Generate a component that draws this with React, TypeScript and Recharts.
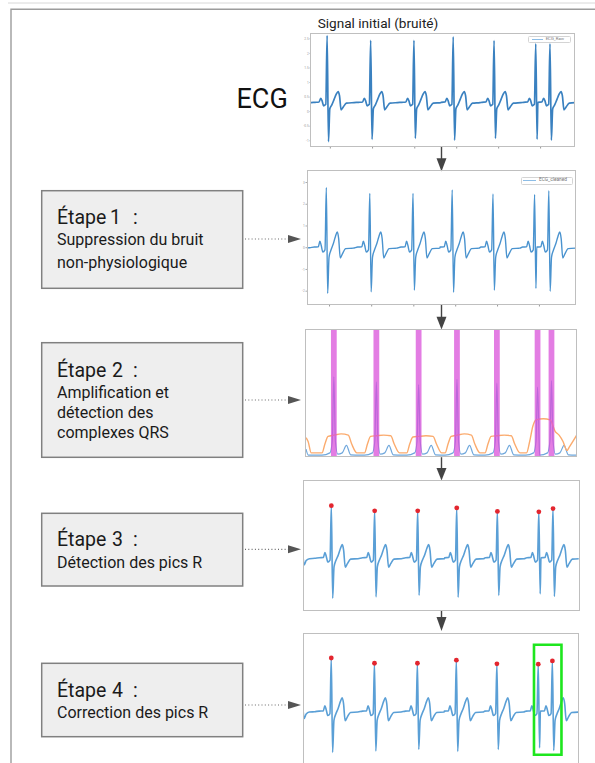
import React from 'react';
import { ComposedChart, Line, Scatter, XAxis, YAxis, ReferenceArea, Legend } from 'recharts';

const FONT = 'Roboto, "Noto Sans", sans-serif';

// R-peak times (samples) and per-beat amplitudes
const BEAT_TIMES = [72, 234, 395, 541, 693, 848, 901];
const CLEAN_R = [2.77, 2.5, 2.5, 2.66, 2.47, 2.45, 2.62];
const CLEAN_S = [-2.1, -2.03, -1.95, -2.05, -1.95, -1.87, -2.0];
const RAW_R = [2.61, 2.45, 2.45, 2.57, 2.44, 2.33, 2.33];
const RAW_S = [-1.03, -0.95, -0.92, -0.98, -0.92, -0.95, -0.98];
const ENERGY_PEAK = [0.63, 0.59, 0.57, 0.61, 0.58, 0.55, 0.6];

// one heartbeat, as offsets (samples) from its R peak
const PRE_OFFSETS = [-45, -30, -24, -19, -13, -5];
const S_OFFSET = 5;
const POST_OFFSETS = [10, 17, 26, 34, 41, 46, 52, 60, 72, 100];
const CLEAN_PRE = [0.03, 0.04, 0.3, 0.1, -0.2, -0.1];
const CLEAN_POST = [-0.45, -0.12, 0.18, 0.52, 0.72, 0.42, -0.47, -0.28, -0.04, -0.02];
const RAW_PRE = [0.32, 0.33, 0.46, 0.38, 0.2, 0.25];
const RAW_POST = [0.1, 0.22, 0.42, 0.6, 0.69, 0.55, 0.06, 0.16, 0.29, 0.31];

// signal before the first full beat
const LEAD_T = [-34, -30, -22, -10, 10];
const CLEAN_LEAD = [0.15, -0.35, -0.12, -0.02, 0.0];
const RAW_LEAD = [0.31, 0.31, 0.3, 0.31, 0.31];

// QRS energy (step 2)
const ENERGY_PRE_OFFSETS = [-45, -15, -6];
const ENERGY_PRE = [0.012, 0.03, 0.12];
const ENERGY_POST_OFFSETS = [6, 15, 32, 48, 64, 100];
const ENERGY_POST = [0.12, 0.02, 0.03, 0.09, 0.015, 0.012];
const ENERGY_LEAD_T = [-34, -25, 10];
const ENERGY_LEAD = [0.06, 0.012, 0.012];

// adaptive threshold (step 2)
const THRESHOLD_T = [-34, -26, -14, 27, 38, 50, 72, 100, 127, 140, 160, 189, 200, 212, 234, 262, 289, 302, 322, 350, 361, 373, 395, 423, 450, 463, 483, 496, 507, 519, 541, 569, 596, 609, 629, 648, 659, 671, 693, 721, 748, 761, 781, 806, 818, 830, 842, 870, 896, 915, 930, 945, 960, 970, 997];
const THRESHOLD_V = [0.15, 0.12, 0.03, 0.03, 0.1, 0.16, 0.17, 0.18, 0.17, 0.1, 0.03, 0.03, 0.1, 0.16, 0.165, 0.17, 0.165, 0.1, 0.03, 0.03, 0.1, 0.155, 0.16, 0.165, 0.16, 0.1, 0.03, 0.03, 0.1, 0.16, 0.17, 0.18, 0.17, 0.1, 0.03, 0.03, 0.1, 0.16, 0.165, 0.17, 0.165, 0.1, 0.03, 0.03, 0.12, 0.24, 0.29, 0.3, 0.29, 0.2, 0.17, 0.12, 0.05, 0.08, 0.17];

const X_TICKS = [84, 241, 398, 554, 710, 866];
const RAW_TICKS = [-1, -0.5, 0, 0.5, 1, 1.5, 2, 2.5];
const CLEAN_TICKS = [-2, -1, 0, 1, 2, 3];

type Pt = { t: number; v: number };

function buildTrace(
  leadT: number[], leadV: number[],
  preOff: number[], preVal: number[],
  peaks: number[], troughs: number[] | null,
  postOff: number[], postVal: number[],
): Pt[] {
  const out: Pt[] = leadT.map((t, i) => ({ t, v: leadV[i] }));
  BEAT_TIMES.forEach((bt, b) => {
    const pts: Pt[] = [];
    preOff.forEach((o, i) => pts.push({ t: bt + o, v: preVal[i] }));
    pts.push({ t: bt, v: peaks[b] });
    if (troughs) pts.push({ t: bt + S_OFFSET, v: troughs[b] });
    postOff.forEach((o, i) => pts.push({ t: bt + o, v: postVal[i] }));
    const next = BEAT_TIMES[b + 1];
    const limit = next === undefined ? Infinity : next + preOff[0];
    pts.forEach((p) => { if (p.t < limit) out.push(p); });
  });
  return out;
}

const rawTrace = buildTrace(LEAD_T, RAW_LEAD, PRE_OFFSETS, RAW_PRE, RAW_R, RAW_S, POST_OFFSETS, RAW_POST);
const cleanTrace = buildTrace(LEAD_T, CLEAN_LEAD, PRE_OFFSETS, CLEAN_PRE, CLEAN_R, CLEAN_S, POST_OFFSETS, CLEAN_POST);
const energyTrace = buildTrace(ENERGY_LEAD_T, ENERGY_LEAD, ENERGY_PRE_OFFSETS, ENERGY_PRE, ENERGY_PEAK, null, ENERGY_POST_OFFSETS, ENERGY_POST);
const thresholdTrace: Pt[] = THRESHOLD_T.map((t, i) => ({ t, v: THRESHOLD_V[i] }));
const rPeaks: Pt[] = BEAT_TIMES.map((t, i) => ({ t, v: CLEAN_R[i] }));

const FRAME = '#bfbfbf';

const legendBox = (w: number, h: number, fs: number, lineLen: number, padL: number, color: string) => (props: any) => {
  const item = props.payload && props.payload[0];
  return (
    <div style={{
      width: w, height: h, boxSizing: 'border-box', border: '0.7px solid #d4d4d4', borderRadius: 1.5,
      background: '#fff', display: 'flex', alignItems: 'center', paddingLeft: padL,
      fontFamily: FONT, fontSize: fs, color: '#777', lineHeight: 1, whiteSpace: 'nowrap',
    }}>
      <span style={{ display: 'inline-block', width: lineLen, height: 0, borderTop: `1.2px solid ${color}`, marginRight: 3 }} />
      <span>{item ? item.value : ''}</span>
    </div>
  );
};

const Dot = (p: any) => <circle cx={p.cx} cy={p.cy} r={2.4} fill="#e3262f" />;

// plot-area outline drawn over a chart
const Frame = ({ x, y, w, h }: { x: number; y: number; w: number; h: number }) => (
  <div style={{
    position: 'absolute', left: x - 0.6, top: y - 0.6, width: w + 1.2, height: h + 1.2,
    boxSizing: 'border-box', border: `1.2px solid ${FRAME}`, pointerEvents: 'none',
  }} />
);

function Boxes() {
  const boxes = [
    { y: 190.7, h: 97.6, n: '1', d: 110, lines: [['Suppression du bruit', 245], ['non-physiologique', 267.7]], ty: 224 },
    { y: 342.7, h: 114.6, n: '2', d: 112, lines: [['Amplification et', 397.7], ['détection des', 417.5], ['complexes QRS', 437.7]], ty: 376.7 },
    { y: 513.3, h: 72.7, n: '3', d: 112, lines: [['Détection des pics R', 568]], ty: 546 },
    { y: 663.3, h: 73.4, n: '4', d: 112, lines: [['Correction des pics R', 718]], ty: 696.7 },
  ];
  const connectorY = [239, 400, 549.3, 705];
  const downArrows = [[146.5, 158.3, 171.5], [304.8, 316.7, 329.5], [457.2, 468, 480.5], [610.5, 617, 631]];
  return (
    <svg width={595} height={763} style={{ position: 'absolute', left: 0, top: 0 }}>
      <line x1={8} y1={3} x2={595} y2={3} stroke="#d8d8d8" strokeWidth={1} />
      <path d="M11 770 V9.3 H600" fill="none" stroke="#9c9c9c" strokeWidth={1.4} />
      <text x={317.7} y={28.3} fontFamily={FONT} fontSize={13.6} fill="#222">Signal initial (bruité)</text>
      <text x={236.5} y={108.3} fontFamily={FONT} fontSize={27} fill="#111">ECG</text>
      {boxes.map((b, i) => (
        <g key={i} fontFamily={FONT} fill="#1a1a1a">
          <rect x={41.7} y={b.y} width={201} height={b.h} fill="#eeeeee" stroke="#808080" strokeWidth={1.5} />
          <text x={57} y={b.ty} fontSize={19.5}>Étape</text>
          <text x={b.d} y={b.ty} fontSize={19.5}>{b.n}</text>
          <text x={133} y={b.ty} fontSize={19.5}>:</text>
          {b.lines.map(([txt, by], j) => (
            <text key={j} x={57} y={by as number} fontSize={16}>{txt}</text>
          ))}
        </g>
      ))}
      {connectorY.map((y, i) => (
        <g key={i}>
          <line x1={245} y1={y} x2={288} y2={y} stroke="#6a6a6a" strokeWidth={1.2} strokeDasharray="1 2.3" />
          <polygon points={`${288},${y - 4} ${301},${y} ${288},${y + 4}`} fill="#555" />
        </g>
      ))}
      {downArrows.map(([a, b, c], i) => (
        <g key={i}>
          <line x1={441.5} y1={a} x2={441.5} y2={b + 1} stroke="#444" strokeWidth={1.4} />
          <polygon points={`${436.5},${b} ${446.5},${b} ${441.5},${c}`} fill="#444" />
        </g>
      ))}
    </svg>
  );
}

export default function App() {
  return (
    <div style={{ position: 'absolute', left: 0, top: 0, width: 595, height: 763, background: '#fff', overflow: 'hidden' }}>
      <Boxes />

      {/* raw signal */}
      <div style={{ position: 'absolute', left: 302.7, top: 33.3 }}>
        <ComposedChart width={272} height={118} margin={{ top: 0, right: 0, bottom: 0, left: 0 }}>
          <XAxis dataKey="t" type="number" domain={[12, 994]} allowDataOverflow ticks={X_TICKS} height={5} tickSize={2.5}
            axisLine={false} tickLine={{ stroke: '#999' }} tickFormatter={() => ''} />
          <YAxis dataKey="v" type="number" domain={[-1.18, 2.7]} allowDataOverflow ticks={RAW_TICKS} width={8} tickSize={1.5} tickMargin={0.8}
            axisLine={false} tickLine={{ stroke: '#aaa' }} tick={{ fontSize: 3.2, fill: '#999', fontFamily: FONT }} />
          <Line data={rawTrace} dataKey="v" name="ECG_Raw" type="monotone" stroke="#3a81c0" strokeWidth={1.7} dot={false} isAnimationActive={false} />
          <Legend layout="horizontal" verticalAlign="middle" align="center"
            wrapperStyle={{ top: 2.7, left: 225.6, width: 'auto', height: 'auto' }}
            content={legendBox(42.7, 7.3, 4.3, 11, 2.4, '#8dbde6')} />
        </ComposedChart>
      </div>
      <Frame x={310.7} y={33.3} w={264} h={113} />

      {/* cleaned signal */}
      <div style={{ position: 'absolute', left: 300.3, top: 171 }}>
        <ComposedChart width={275.4} height={139} margin={{ top: 0, right: 0, bottom: 0, left: 0 }}>
          <XAxis dataKey="t" type="number" domain={[0, 1000]} allowDataOverflow ticks={X_TICKS} height={6} tickSize={2.5}
            axisLine={false} tickLine={{ stroke: '#999' }} tickFormatter={() => ''} />
          <YAxis dataKey="v" type="number" domain={[-2.59, 3.53]} allowDataOverflow ticks={CLEAN_TICKS} width={7} tickSize={1.5} tickMargin={0.8}
            axisLine={false} tickLine={{ stroke: '#aaa' }} tick={{ fontSize: 3.2, fill: '#999', fontFamily: FONT }} />
          <Line data={cleanTrace} dataKey="v" name="ECG_cleaned" type="monotone" stroke="#4a93cf" strokeWidth={1.4} dot={false} isAnimationActive={false} />
          <Legend layout="horizontal" verticalAlign="middle" align="center"
            wrapperStyle={{ top: 5.7, left: 220.4, width: 'auto', height: 'auto' }}
            content={legendBox(52.6, 8.3, 4.8, 12.7, 1.6, '#8dbde6')} />
        </ComposedChart>
      </div>
      <Frame x={307.3} y={171} w={268.4} h={133} />

      {/* QRS energy, threshold and detected complexes */}
      <div style={{ position: 'absolute', left: 306, top: 330 }}>
        <ComposedChart width={270.7} height={126.7} margin={{ top: 0, right: 0, bottom: 0, left: 0 }}>
          <XAxis hide dataKey="t" type="number" domain={[-34, 997]} allowDataOverflow />
          <YAxis hide dataKey="v" type="number" domain={[0, 1]} allowDataOverflow />
          <Line data={energyTrace} dataKey="v" type="monotone" stroke="#6fa7dc" strokeWidth={1.2} dot={false} isAnimationActive={false} />
          <Line data={thresholdTrace} dataKey="v" type="monotone" stroke="#fbab6e" strokeWidth={1.4} dot={false} isAnimationActive={false} />
          {BEAT_TIMES.map((t) => (
            <ReferenceArea key={t} x1={t - 11} x2={t + 11} fill="#d94fd9" fillOpacity={0.74} stroke="none" zIndex={600} />
          ))}
        </ComposedChart>
      </div>
      <Frame x={306} y={330} w={270.7} h={126.7} />

      {/* R peaks */}
      <div style={{ position: 'absolute', left: 303.3, top: 481 }}>
        <ComposedChart width={275.7} height={129} margin={{ top: 0, right: 0, bottom: 0, left: 0 }}>
          <XAxis hide dataKey="t" type="number" domain={[-34, 997]} allowDataOverflow />
          <YAxis hide dataKey="v" type="number" domain={[-2.72, 4.07]} allowDataOverflow />
          <Line data={cleanTrace} dataKey="v" type="monotone" stroke="#5a9fd6" strokeWidth={1.6} dot={false} isAnimationActive={false} />
          <Scatter data={rPeaks} dataKey="v" shape={Dot} isAnimationActive={false} />
        </ComposedChart>
      </div>
      <Frame x={303.3} y={481} w={275.7} h={129} />

      {/* corrected R peaks */}
      <div style={{ position: 'absolute', left: 303.3, top: 633.3 }}>
        <ComposedChart width={275} height={131} margin={{ top: 0, right: 0, bottom: 0, left: 0 }}>
          <XAxis hide dataKey="t" type="number" domain={[-34, 997]} allowDataOverflow />
          <YAxis hide dataKey="v" type="number" domain={[-2.7, 4.06]} allowDataOverflow />
          <Line data={cleanTrace} dataKey="v" type="monotone" stroke="#5a9fd6" strokeWidth={1.6} dot={false} isAnimationActive={false} />
          <Scatter data={rPeaks} dataKey="v" shape={Dot} isAnimationActive={false} />
          <ReferenceArea x1={BEAT_TIMES[5] - 16} x2={BEAT_TIMES[6] + 34} y1={-2.22} y2={3.45}
            fill="none" stroke="#1ee61e" strokeWidth={2.6} ifOverflow="visible" zIndex={700} />
        </ComposedChart>
      </div>
      <Frame x={303.3} y={633.3} w={275} h={131} />
    </div>
  );
}
